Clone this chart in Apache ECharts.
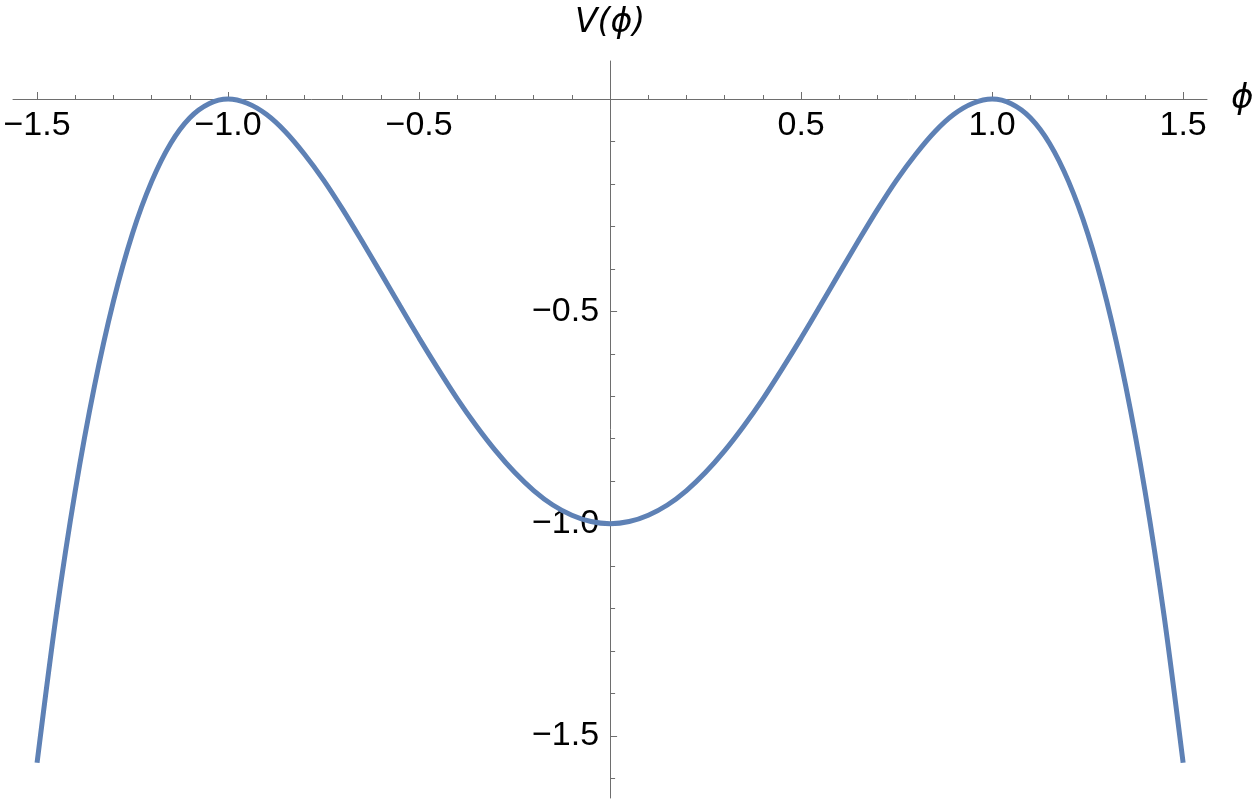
<!DOCTYPE html>
<html>
<head>
<meta charset="utf-8">
<script src="https://cdn.jsdelivr.net/npm/echarts@6/dist/echarts.min.js"></script>
<style>
  html, body { margin: 0; padding: 0; background: #fff; }
  #main { width: 1256px; height: 804px; }
</style>
</head>
<body>
<div id="main"></div>
<script>
// values, phi in steps of 0.05
const phi = [
  -1.5, -1.45, -1.4, -1.35, -1.3, -1.25, -1.2, -1.15, -1.1, -1.05,
  -1.0, -0.95, -0.9, -0.85, -0.8, -0.75, -0.7, -0.65, -0.6, -0.55,
  -0.5, -0.45, -0.4, -0.35, -0.3, -0.25, -0.2, -0.15, -0.1, -0.05,
  0,
  0.05, 0.1, 0.15, 0.2, 0.25, 0.3, 0.35, 0.4, 0.45, 0.5,
  0.55, 0.6, 0.65, 0.7, 0.75, 0.8, 0.85, 0.9, 0.95, 1.0,
  1.05, 1.1, 1.15, 1.2, 1.25, 1.3, 1.35, 1.4, 1.45, 1.5
]
const potential = [
  -1.563, -1.216, -0.922, -0.677, -0.476, -0.316, -0.194, -0.104, -0.044, -0.011,
  0, -0.010, -0.036, -0.077, -0.130, -0.191, -0.260, -0.334, -0.410, -0.487,
  -0.563, -0.636, -0.706, -0.770, -0.828, -0.879, -0.922, -0.956, -0.980, -0.995,
  -1.0,
  -0.995, -0.980, -0.956, -0.922, -0.879, -0.828, -0.770, -0.706, -0.636, -0.563,
  -0.487, -0.410, -0.334, -0.260, -0.191, -0.130, -0.077, -0.036, -0.010, 0,
  -0.011, -0.044, -0.104, -0.194, -0.316, -0.476, -0.677, -0.922, -1.216, -1.563
]

const xMajorTicks = [-1.5, -1.0, -0.5, 0.5, 1.0, 1.5]
const xMinorTicks = [-1.4, -1.3, -1.2, -1.1, -0.9, -0.8, -0.7, -0.6, -0.4, -0.3, -0.2, -0.1,
  0.1, 0.2, 0.3, 0.4, 0.6, 0.7, 0.8, 0.9, 1.1, 1.2, 1.3, 1.4]
const yMajorTicks = [-0.5, -1.0, -1.5]
const yMinorTicks = [-0.1, -0.2, -0.3, -0.4, -0.6, -0.7, -0.8, -0.9, -1.1, -1.2, -1.3, -1.4, -1.6]

const xRange = [-1.563, 1.5625]
const yRange = [-1.646, 0.0895]

const W = 1256
const H = 804
const grid = { left: 13, right: 49, top: 61, bottom: 6 }
const gridW = W - grid.left - grid.right
const gridH = H - grid.top - grid.bottom

// axes cross at (0, 0): shift them with offset so the labels follow the lines
const xAxisOffset = -gridH * (0 - yRange[0]) / (yRange[1] - yRange[0])
const yAxisOffset = -gridW * (0 - xRange[0]) / (xRange[1] - xRange[0])

const axisColor = '#6e6e6e'
const font = '"Liberation Sans", Arial, sans-serif'
const nameFont = '"DejaVu Sans", "Liberation Sans", sans-serif'

const fmt = (v) => (v < 0 ? '\u2212' : '') + Math.abs(v).toFixed(1)

const myChart = echarts.init(document.getElementById('main'), null, { renderer: 'canvas' })

const option = {
  animation: false,
  backgroundColor: '#fff',
  grid: {
    left: grid.left,
    right: grid.right,
    top: grid.top,
    bottom: grid.bottom,
    containLabel: false,
    outerBoundsMode: 'none'
  },
  xAxis: [
    {
      type: 'value',
      position: 'bottom',
      offset: xAxisOffset,
      min: xRange[0],
      max: xRange[1],
      name: 'ϕ',
      nameLocation: 'end',
      nameGap: 24,
      nameTextStyle: { fontFamily: nameFont, fontSize: 34, fontStyle: 'italic', color: '#000', verticalAlign: 'middle' },
      axisLine: { onZero: false, lineStyle: { color: axisColor, width: 1 } },
      axisTick: { inside: true, length: 7, customValues: xMajorTicks, lineStyle: { color: axisColor } },
      axisLabel: { customValues: xMajorTicks, formatter: fmt, margin: 10, fontFamily: font, fontSize: 34, color: '#000' },
      splitLine: { show: false }
    },
    {
      type: 'value',
      position: 'bottom',
      offset: xAxisOffset,
      min: xRange[0],
      max: xRange[1],
      axisLine: { show: false, onZero: false },
      axisTick: { inside: true, length: 4, customValues: xMinorTicks, lineStyle: { color: axisColor } },
      axisLabel: { show: false },
      splitLine: { show: false }
    }
  ],
  yAxis: [
    {
      type: 'value',
      position: 'left',
      offset: yAxisOffset,
      min: yRange[0],
      max: yRange[1],
      name: 'V(ϕ)',
      nameLocation: 'end',
      nameGap: 21,
      nameTextStyle: { fontFamily: nameFont, fontSize: 33, fontStyle: 'italic', color: '#000', align: 'center' },
      axisLine: { onZero: false, lineStyle: { color: axisColor, width: 1 } },
      axisTick: { inside: true, length: 7, customValues: yMajorTicks, lineStyle: { color: axisColor } },
      axisLabel: { customValues: yMajorTicks, formatter: fmt, margin: 11, fontFamily: font, fontSize: 34, color: '#000' },
      splitLine: { show: false }
    },
    {
      type: 'value',
      position: 'left',
      offset: yAxisOffset,
      min: yRange[0],
      max: yRange[1],
      axisLine: { show: false, onZero: false },
      axisTick: { inside: true, length: 5, customValues: yMinorTicks, lineStyle: { color: axisColor } },
      axisLabel: { show: false },
      splitLine: { show: false }
    }
  ],
  series: [
    {
      type: 'line',
      xAxisIndex: 0,
      yAxisIndex: 0,
      data: phi.map((x, i) => [x, potential[i]]),
      smooth: 0.3,
      showSymbol: false,
      lineStyle: { color: '#5e81b5', width: 5 },
      itemStyle: { color: '#5e81b5' }
    }
  ]
}

myChart.setOption(option)
</script>
</body>
</html>
